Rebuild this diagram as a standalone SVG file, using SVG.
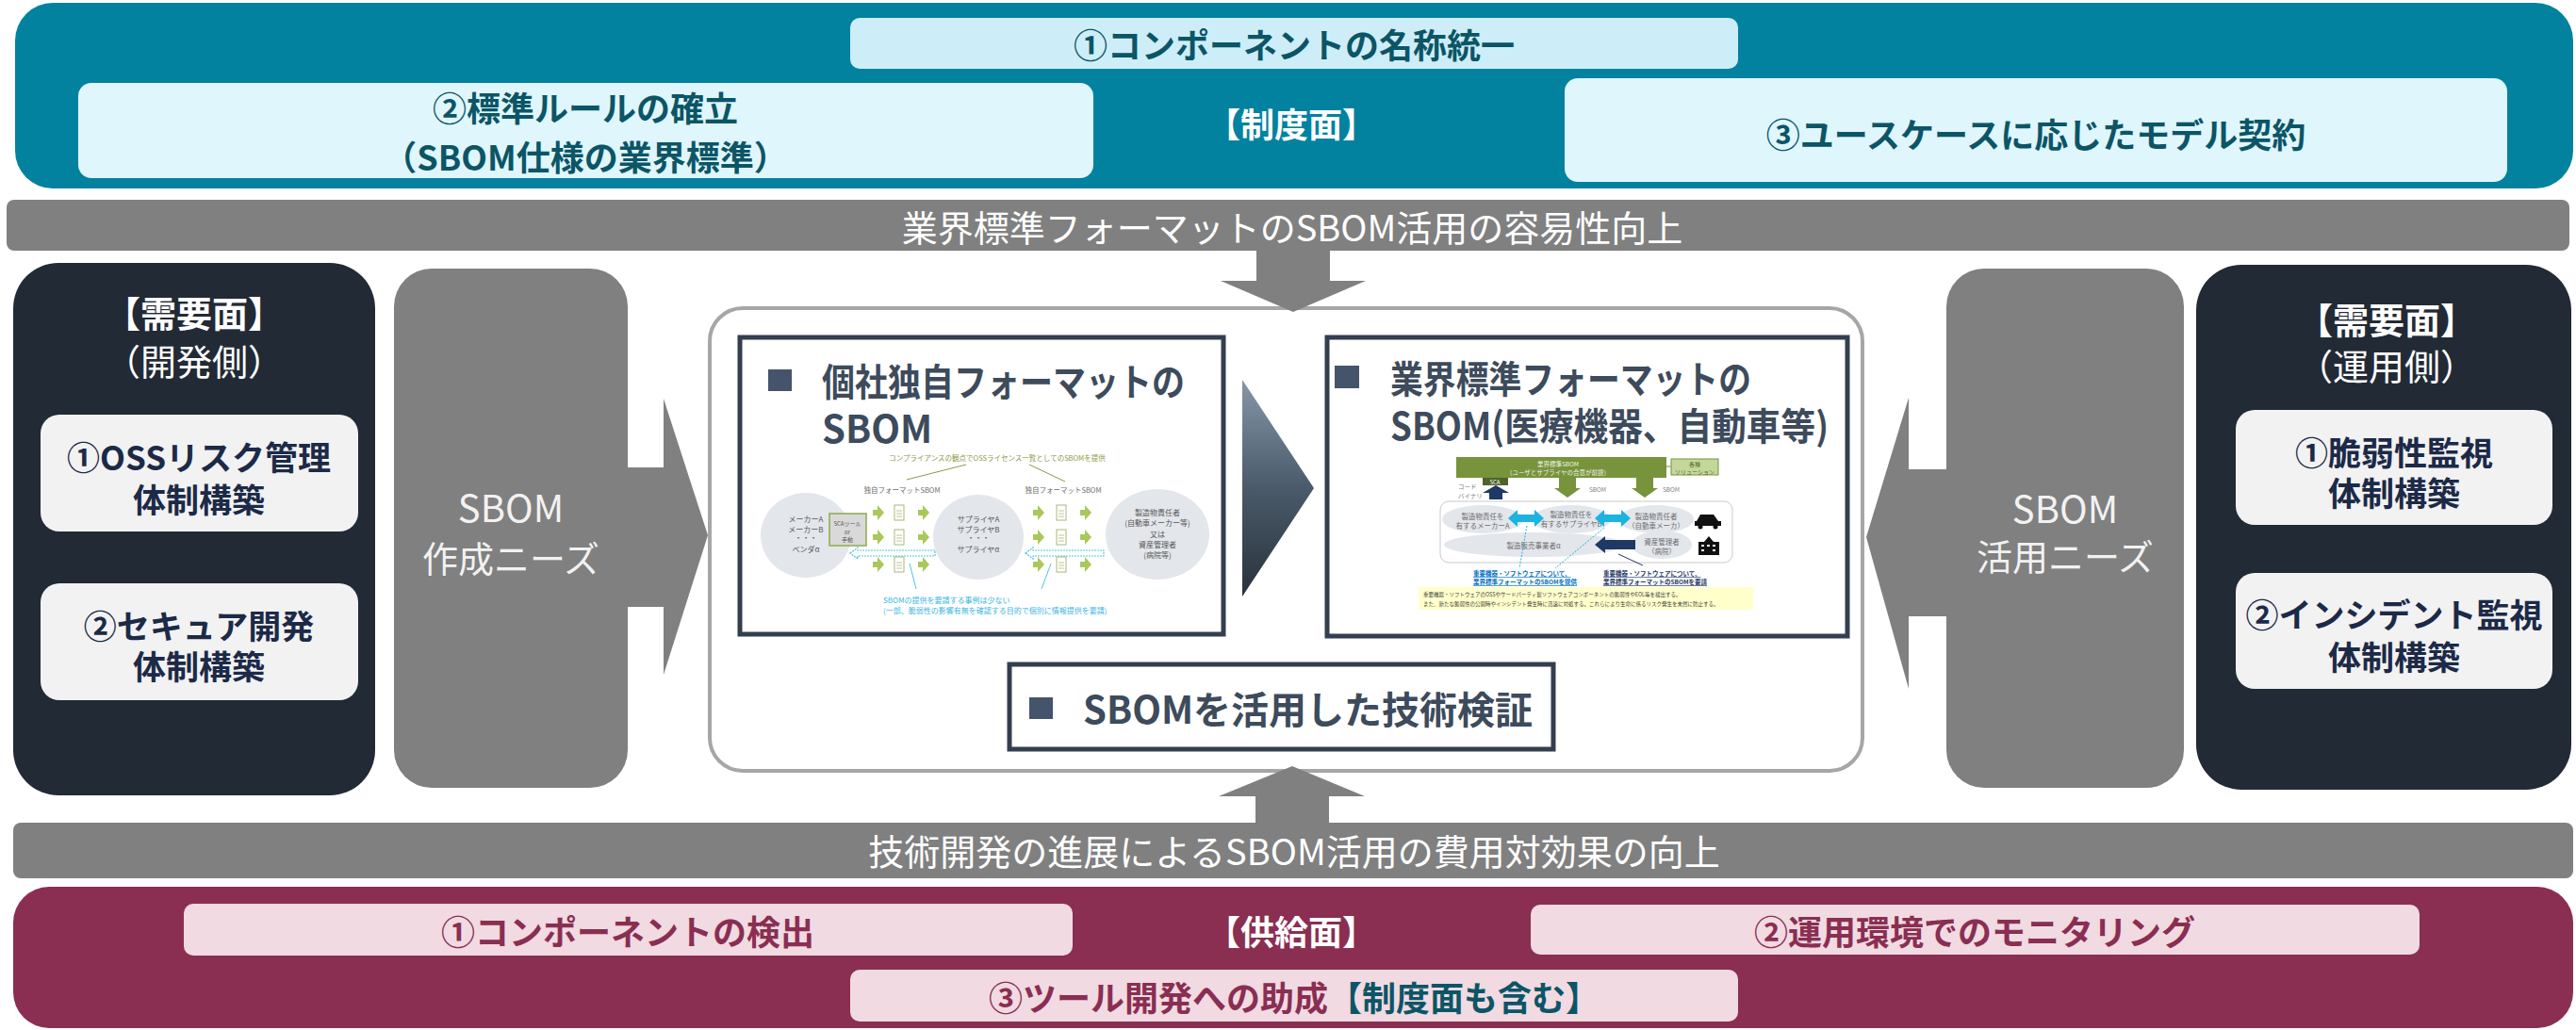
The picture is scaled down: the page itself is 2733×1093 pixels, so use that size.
<svg xmlns="http://www.w3.org/2000/svg" width="2733" height="1093" viewBox="0 0 2733 1093">
  <style>
    text { font-family: "Noto Sans CJK JP", "Noto Sans", sans-serif; }
    .c { text-anchor: middle; dominant-baseline: central; }
    .b { font-weight: 700; }
    .teal { fill: #0c5566; }
    .wht { fill: #ffffff; }
    .band { fill: #808080; }
    .dark { fill: #222a35; }
    .lite { fill: #f2f2f2; }
    .navy { fill: #1c2a48; }
    .gtxt { fill: #f2f2f2; }
    .mar { fill: #8a2e52; }
    .pink { fill: #f1dae2; }
    .frame { fill: #ffffff; stroke: #333f4f; stroke-width: 5; }
    .sq { fill: #44546a; }
    .ttl { fill: #3d4b5c; font-size: 40px; font-weight: 700; }
    .t7 { font-size: 7.5px; fill: #6b6b6b; }
    .t8 { font-size: 8px; fill: #555555; }
    .ell { fill: #e3e6eb; }
    .ga { fill: #a9c85a; }
    .doc { fill: #ffffff; stroke: #a9b878; stroke-width: 1; }
  </style>
  <defs>
    <linearGradient id="chev" x1="0" y1="0" x2="0" y2="1">
      <stop offset="0" stop-color="#8497a8"/>
      <stop offset="0.5" stop-color="#4a5a6a"/>
      <stop offset="1" stop-color="#28323c"/>
    </linearGradient>
    <!-- small green block arrow pointing right -->
    <path id="garr" d="M-6,-3 h5 v-5 l7,8 l-7,8 v-5 h-5 z"/>
    <!-- small document icon -->
    <g id="doc">
      <rect x="-5" y="-8" width="10" height="16" class="doc"/>
      <path d="M-3,-2 h6 M-3,1 h6 M-3,4 h6" stroke="#a9b878" stroke-width="0.8"/>
    </g>
  </defs>

  <!-- top policy panel -->
  <g id="policy">
    <rect x="16" y="3" width="2714" height="197" rx="40" fill="#03829f"/>
    <rect x="902" y="19" width="942" height="54" rx="10" fill="#cdeef8"/>
    <text x="1373" y="46" class="c b teal" font-size="36">①コンポーネントの名称統一</text>
    <rect x="83" y="88" width="1077" height="101" rx="14" fill="#dff6fd"/>
    <text x="621" y="113" class="c b teal" font-size="36">②標準ルールの確立</text>
    <text x="621" y="165" class="c b teal" font-size="36">（SBOM仕様の業界標準）</text>
    <text x="1370" y="130" class="c b wht" font-size="36">【制度面】</text>
    <rect x="1660" y="83" width="1000" height="110" rx="14" fill="#dff6fd"/>
    <text x="2160" y="141" class="c b teal" font-size="36">③ユースケースに応じたモデル契約</text>
  </g>

  <!-- upper grey band -->
  <g id="band-top">
    <rect x="7" y="212" width="2719" height="54" rx="8" class="band"/>
    <text x="1371" y="239" class="c wht" font-size="38">業界標準フォーマットのSBOM活用の容易性向上</text>
  </g>

  <!-- lower grey band -->
  <g id="band-bottom">
    <rect x="14" y="873" width="2716" height="59" rx="8" class="band"/>
    <text x="1373" y="901" class="c wht" font-size="38">技術開発の進展によるSBOM活用の費用対効果の向上</text>
  </g>

  <!-- supply panel -->
  <g id="supply">
    <rect x="14" y="941" width="2716" height="150" rx="38" class="mar"/>
    <rect x="195" y="959" width="943" height="55" rx="10" class="pink"/>
    <text x="666" y="987" class="c b mar" font-size="36">①コンポーネントの検出</text>
    <text x="1370" y="987" class="c b wht" font-size="36">【供給面】</text>
    <rect x="1624" y="960" width="943" height="53" rx="10" class="pink"/>
    <text x="2095" y="987" class="c b mar" font-size="36">②運用環境でのモニタリング</text>
    <rect x="902" y="1029" width="942" height="55" rx="10" class="pink"/>
    <text x="1373" y="1057" class="c b" font-size="36"><tspan class="mar">③ツール開発への助成</tspan><tspan class="teal">【制度面も含む】</tspan></text>
  </g>

  <!-- demand side (development) -->
  <g id="demand-dev">
    <rect x="14" y="279" width="384" height="565" rx="48" class="dark"/>
    <text x="206" y="330" class="c b wht" font-size="38">【需要面】</text>
    <text x="206" y="381" class="c wht" font-size="38">（開発側）</text>
    <rect x="43" y="440" width="337" height="124" rx="20" class="lite"/>
    <text x="211" y="483" class="c b navy" font-size="35">①OSSリスク管理</text>
    <text x="211" y="528" class="c b navy" font-size="35">体制構築</text>
    <rect x="43" y="619" width="337" height="124" rx="20" class="lite"/>
    <text x="211" y="662" class="c b navy" font-size="35">②セキュア開発</text>
    <text x="211" y="705" class="c b navy" font-size="35">体制構築</text>
  </g>

  <!-- demand side (operation) -->
  <g id="demand-ops">
    <rect x="2330" y="281" width="398" height="557" rx="48" class="dark"/>
    <text x="2532" y="337" class="c b wht" font-size="38">【需要面】</text>
    <text x="2532" y="386" class="c wht" font-size="38">（運用側）</text>
    <rect x="2372" y="435" width="336" height="122" rx="20" class="lite"/>
    <text x="2540" y="478" class="c b navy" font-size="35">①脆弱性監視</text>
    <text x="2540" y="521" class="c b navy" font-size="35">体制構築</text>
    <rect x="2372" y="608" width="336" height="123" rx="20" class="lite"/>
    <text x="2540" y="650" class="c b navy" font-size="35">②インシデント監視</text>
    <text x="2540" y="695" class="c b navy" font-size="35">体制構築</text>
  </g>

  <!-- central container -->
  <g id="center">
    <rect x="753" y="327" width="1223" height="491" rx="35" fill="#ffffff" stroke="#a6a6a6" stroke-width="4"/>
  </g>

  <!-- SBOM creation needs -->
  <g id="needs-create">
    <rect x="418" y="285" width="248" height="551" rx="40" class="band"/>
    <text x="542" y="537" class="c gtxt" font-size="40">SBOM</text>
    <text x="542" y="590" class="c gtxt" font-size="38">作成ニーズ</text>
  </g>

  <!-- SBOM usage needs -->
  <g id="needs-use">
    <rect x="2065" y="285" width="252" height="551" rx="40" class="band"/>
    <text x="2191" y="538" class="c gtxt" font-size="40">SBOM</text>
    <text x="2191" y="588" class="c gtxt" font-size="38">活用ニーズ</text>
  </g>

  <!-- proprietary-format SBOM -->
  <g id="box-proprietary">
    <rect x="785" y="358" width="513" height="315" class="frame"/>
    <rect x="815" y="392" width="25" height="23" class="sq"/>
    <text x="872" y="420" class="ttl" textLength="385" lengthAdjust="spacingAndGlyphs">個社独自フォーマットの</text>
    <text x="872" y="470" class="ttl">SBOM</text>

    <text x="1058" y="485" class="c" font-size="7.5" fill="#8a9a4a">コンプライアンスの観点でOSSライセンス一覧としてのSBOMを提供</text>
    <path d="M1025,493 L962,509 M1092,493 L1130,511" stroke="#8a9a4a" stroke-width="1" fill="none"/>
    <text x="957" y="519" class="c t7">独自フォーマットSBOM</text>
    <text x="1128" y="519" class="c t7">独自フォーマットSBOM</text>

    <ellipse cx="855" cy="568" rx="48" ry="45" class="ell"/>
    <text x="855" y="550" class="c t8">メーカーA</text>
    <text x="855" y="561" class="c t8">メーカーB</text>
    <text x="855" y="570" class="c t8">・・・</text>
    <text x="855" y="582" class="c t8">ベンダα</text>
    <rect x="880" y="545" width="39" height="34" fill="#d9d9d9" stroke="#8faa4a" stroke-width="1.5"/>
    <text x="899" y="555" class="c" font-size="6" fill="#555">SCAツール</text>
    <text x="899" y="564" class="c" font-size="6" fill="#555">or</text>
    <text x="899" y="572" class="c" font-size="6" fill="#555">手動</text>

    <ellipse cx="1038" cy="570" rx="48" ry="45" class="ell"/>
    <text x="1038" y="550" class="c t8">サプライヤA</text>
    <text x="1038" y="561" class="c t8">サプライヤB</text>
    <text x="1038" y="570" class="c t8">・・・</text>
    <text x="1038" y="582" class="c t8">サプライヤα</text>

    <ellipse cx="1228" cy="567" rx="55" ry="48" class="ell"/>
    <text x="1228" y="543" class="c t8">製造物責任者</text>
    <text x="1228" y="554" class="c t8">(自動車メーカー等)</text>
    <text x="1228" y="566" class="c t8">又は</text>
    <text x="1228" y="577" class="c t8">資産管理者</text>
    <text x="1228" y="588" class="c t8">(病院等)</text>

    <g class="ga">
      <use href="#garr" x="932" y="544"/><use href="#garr" x="932" y="570"/><use href="#garr" x="932" y="599"/>
      <use href="#garr" x="980" y="544"/><use href="#garr" x="980" y="570"/><use href="#garr" x="980" y="599"/>
      <use href="#garr" x="1102" y="544"/><use href="#garr" x="1102" y="570"/><use href="#garr" x="1102" y="599"/>
      <use href="#garr" x="1152" y="544"/><use href="#garr" x="1152" y="570"/><use href="#garr" x="1152" y="599"/>
    </g>
    <use href="#doc" x="954" y="544"/><use href="#doc" x="954" y="570"/><use href="#doc" x="954" y="599"/>
    <use href="#doc" x="1126" y="544"/><use href="#doc" x="1126" y="570"/><use href="#doc" x="1126" y="599"/>

    <path d="M902,587 L910,581 V584 H992 V590 H910 V593 Z M1088,587 L1096,581 V584 H1171 V590 H1096 V593 Z" fill="#ffffff" stroke="#4fc3e8" stroke-width="1.2" stroke-dasharray="2 1"/>
    <path d="M965,598 L972,625 M1115,598 L1105,625" stroke="#4fc3e8" stroke-width="1"/>
    <text x="937" y="636" font-size="8" fill="#3cb6e3" dominant-baseline="central">SBOMの提供を要請する事例は少ない</text>
    <text x="937" y="647" font-size="8" fill="#3cb6e3" dominant-baseline="central">(一部、脆弱性の影響有無を確認する目的で個別に情報提供を要請)</text>
  </g>

  <!-- transition chevron -->
  <polygon points="1318,403 1394,518 1318,633" fill="url(#chev)"/>

  <!-- industry-standard-format SBOM -->
  <g id="box-standard">
    <rect x="1408" y="358" width="552" height="317" class="frame"/>
    <rect x="1416" y="388" width="26" height="24" class="sq"/>
    <text x="1475" y="417" class="ttl" textLength="383" lengthAdjust="spacingAndGlyphs">業界標準フォーマットの</text>
    <text x="1475" y="467" class="ttl" textLength="465" lengthAdjust="spacingAndGlyphs">SBOM(医療機器、自動車等)</text>

    <rect x="1545" y="485" width="223" height="22" fill="#77933c"/>
    <text x="1653" y="492" class="c" font-size="6.5" fill="#eef3e0">業界標準SBOM</text>
    <text x="1653" y="501" class="c" font-size="6.5" fill="#eef3e0">（ユーザとサプライヤの合意が前提）</text>
    <path d="M1768,495 H1773" stroke="#77933c" stroke-width="1"/>
    <rect x="1773" y="487" width="50" height="17" fill="#c4d79b" stroke="#77933c" stroke-width="1"/>
    <text x="1798" y="492" class="c" font-size="6" fill="#556b2f">各種</text>
    <text x="1798" y="500" class="c" font-size="6" fill="#556b2f">ソリューション</text>
    <rect x="1573" y="507" width="27" height="8" fill="#4f6228"/>
    <text x="1586" y="511" class="c" font-size="6" fill="#ffffff">SCA</text>
    <text x="1547" y="516" font-size="6.5" fill="#7f7f7f" dominant-baseline="central">コード</text>
    <text x="1547" y="526" font-size="6.5" fill="#7f7f7f" dominant-baseline="central">バイナリ</text>
    <path d="M1587,515 L1601,523 H1594 V530 H1580 V523 H1573 Z" fill="#1f3864"/>
    <path d="M1654,507 H1672 V518 H1677 L1663,528 L1649,518 H1654 Z M1736,507 H1754 V518 H1759 L1745,528 L1731,518 H1736 Z" fill="#77933c"/>
    <text x="1695" y="519" class="c" font-size="6.5" fill="#7f7f7f">SBOM</text>
    <text x="1773" y="519" class="c" font-size="6.5" fill="#7f7f7f">SBOM</text>

    <rect x="1528" y="532" width="310" height="65" rx="9" fill="#ffffff" stroke="#c9c9c9" stroke-width="1"/>
    <ellipse cx="1573" cy="551" rx="43" ry="15" class="ell"/>
    <ellipse cx="1667" cy="551" rx="42" ry="15" class="ell"/>
    <ellipse cx="1757" cy="551" rx="40" ry="15" class="ell"/>
    <ellipse cx="1627" cy="578" rx="95" ry="13" class="ell"/>
    <ellipse cx="1763" cy="578" rx="32" ry="15" class="ell"/>
    <text x="1573" y="547" class="c t7">製造物責任を</text>
    <text x="1573" y="557" class="c t7">有するメーカーA</text>
    <text x="1667" y="545" class="c t7">製造物責任を</text>
    <text x="1667" y="555" class="c t7">有するサプライヤB</text>
    <text x="1757" y="547" class="c t7">製造物責任者</text>
    <text x="1757" y="557" class="c t7">（自動車メーカ）</text>
    <text x="1627" y="578" class="c t7">製造販売事業者α</text>
    <text x="1763" y="574" class="c t7">資産管理者</text>
    <text x="1763" y="584" class="c t7">（病院）</text>
    <path d="M1600,550 L1610,541 V546 H1628 V541 L1638,550 L1628,559 V554 H1610 V559 Z M1692,550 L1702,541 V546 H1720 V541 L1730,550 L1720,559 V554 H1702 V559 Z" fill="#1cb4de"/>
    <path d="M1692,578 L1703,569 V573 H1735 V583 H1703 V587 Z" fill="#1f3864"/>
    <!-- car -->
    <g fill="#111111">
      <path d="M1800,553 L1804,546 H1818 L1823,553 H1826 V558 H1798 V553 Z"/>
      <circle cx="1804" cy="559" r="2.5"/><circle cx="1820" cy="559" r="2.5"/>
    </g>
    <!-- hospital -->
    <g fill="#111111">
      <rect x="1802" y="575" width="22" height="14"/>
      <path d="M1808,575 L1813,569 L1818,575 Z"/>
      <path d="M1805,578 h3 v2 h-3z M1811,578 h3 v2 h-3z M1817,578 h3 v2 h-3z M1805,583 h3 v2 h-3z M1817,583 h3 v2 h-3z" fill="#ffffff"/>
    </g>
    <path d="M1620,558 L1612,603 M1702,560 L1650,603" stroke="#1cb4de" stroke-width="1" stroke-dasharray="2 1.5"/>
    <path d="M1717,588 L1743,600" stroke="#1f3864" stroke-width="1"/>
    <text x="1563" y="608" font-size="6.5" fill="#0070c0" text-decoration="underline" dominant-baseline="central" font-weight="700">重要機器・ソフトウェアについて、</text>
    <text x="1563" y="617" font-size="6.5" fill="#0070c0" text-decoration="underline" dominant-baseline="central" font-weight="700">業界標準フォーマットのSBOMを提供</text>
    <text x="1701" y="608" font-size="6.5" fill="#1f3864" text-decoration="underline" dominant-baseline="central" font-weight="700">重要機器・ソフトウェアについて、</text>
    <text x="1701" y="617" font-size="6.5" fill="#1f3864" text-decoration="underline" dominant-baseline="central" font-weight="700">業界標準フォーマットのSBOMを要請</text>
    <rect x="1505" y="623" width="355" height="24" fill="#ffffcc"/>
    <text x="1510" y="631" font-size="5.5" fill="#404040" dominant-baseline="central">重要機器・ソフトウェアのOSSやサードパーティ製ソフトウェアコンポーネントの脆弱性やEOL等を検出する。</text>
    <text x="1510" y="641" font-size="5.5" fill="#404040" dominant-baseline="central">また、新たな脆弱性の公開時やインシデント発生時に迅速に対処する。これらにより生命に係るリスク発生を未然に防止する。</text>
  </g>

  <!-- technical verification -->
  <g id="box-verify">
    <rect x="1071" y="705" width="577" height="90" class="frame"/>
    <rect x="1092" y="740" width="25" height="23" class="sq"/>
    <text x="1149" y="768" class="ttl">SBOMを活用した技術検証</text>
  </g>

  <!-- connectors -->
  <g id="connectors" fill="#808080">
    <!-- band to centre (down) -->
    <polygon points="1333,264 1411,264 1411,298 1449,298 1372,331 1295,298 1333,298"/>
    <!-- band to centre (up) -->
    <polygon points="1332,875 1332,845 1293,845 1371,813 1448,845 1410,845 1410,875"/>
    <!-- creation needs to centre -->
    <polygon points="664,496 704,496 704,423 751,568 704,716 704,644 664,644"/>
    <!-- usage needs to centre -->
    <polygon points="2067,498 2025,498 2025,422 1980,570 2025,731 2025,654 2067,654"/>
  </g>
</svg>
